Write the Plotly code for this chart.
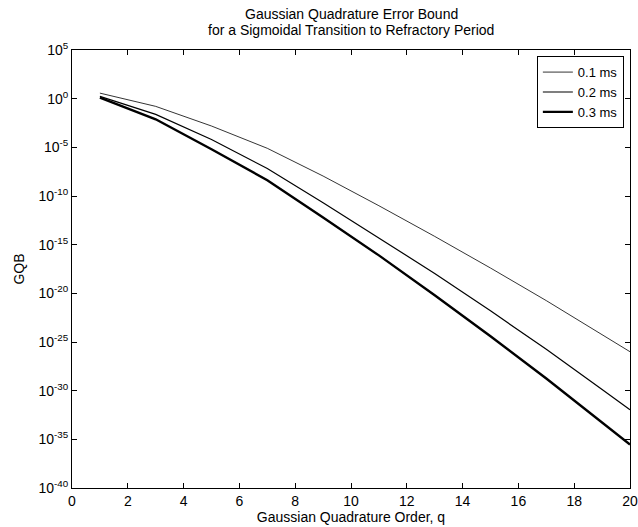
import plotly.graph_objects as go

# Gaussian quadrature order
q = [1, 3, 5, 7, 9, 11, 13, 15, 17, 19, 20]

# log10 of the error bound for each transition duration
log_gqb_01 = [0.57, -0.79, -2.81, -5.1, -7.95, -11.0, -14.15, -17.4, -20.75, -24.25, -26.0]
log_gqb_02 = [0.23, -1.61, -4.2, -7.18, -10.7, -14.3, -17.95, -21.8, -25.75, -29.88, -31.95]
log_gqb_03 = [0.1, -2.12, -5.2, -8.38, -12.2, -16.1, -20.2, -24.4, -28.75, -33.28, -35.54]

series_names = ["0.1 ms", "0.2 ms", "0.3 ms"]
line_widths = [0.8, 1.2, 2.4]

y_exponents = [5, 0, -5, -10, -15, -20, -25, -30, -35, -40]
x_ticks = [0, 2, 4, 6, 8, 10, 12, 14, 16, 18, 20]

title_lines = ["Gaussian Quadrature Error Bound",
               "for a Sigmoidal Transition to Refractory Period"]

FONT = "Liberation Sans, Arial, Helvetica, sans-serif"
W, H = 638, 527
L, R, T, B = 72, 8, 50, 39
PLOT_H = H - T - B

fig = go.Figure()
for name, vals, w in zip(series_names, [log_gqb_01, log_gqb_02, log_gqb_03], line_widths):
    fig.add_trace(go.Scatter(
        x=q, y=[10 ** v for v in vals], mode="lines", name=name,
        line=dict(color="black", width=w),
    ))

# two-line title placed above the axes box
for txt, py in zip(title_lines, [14, 30]):
    fig.add_annotation(
        text=txt, xref="paper", yref="paper", x=0.5, y=1 + (T - py) / PLOT_H,
        xanchor="center", yanchor="middle", showarrow=False,
        font=dict(family=FONT, size=14, color="black"),
    )

fig.update_layout(
    width=W, height=H,
    margin=dict(l=L, r=R, t=T, b=B),
    paper_bgcolor="white", plot_bgcolor="white",
    font=dict(family=FONT, size=14, color="black"),
    showlegend=True,
    legend=dict(
        x=0.989, y=0.986, xanchor="right", yanchor="top",
        bordercolor="black", borderwidth=1, bgcolor="white",
        font=dict(family=FONT, size=13),
        tracegroupgap=0, itemwidth=30,
    ),
)

fig.update_xaxes(
    range=[0, 20], tickvals=x_ticks, ticktext=[str(t) for t in x_ticks],
    ticks="inside", ticklen=5, tickcolor="black",
    showline=True, linecolor="black", linewidth=1, mirror="ticks",
    showgrid=False, zeroline=False, automargin=False,
    tickfont=dict(size=14),
    title=dict(text="Gaussian Quadrature Order, q", standoff=4, font=dict(size=14)),
)
fig.update_yaxes(
    type="log", range=[-40, 5],
    tickvals=[10.0 ** e for e in y_exponents],
    ticktext=[f"10<sup>{e}</sup>" for e in y_exponents],
    ticks="inside", ticklen=5, tickcolor="black",
    showline=True, linecolor="black", linewidth=1, mirror="ticks",
    showgrid=False, zeroline=False, automargin=False,
    tickfont=dict(size=14),
    title=dict(text="GQB", standoff=10, font=dict(size=14)),
)

fig.write_html("out.html")
